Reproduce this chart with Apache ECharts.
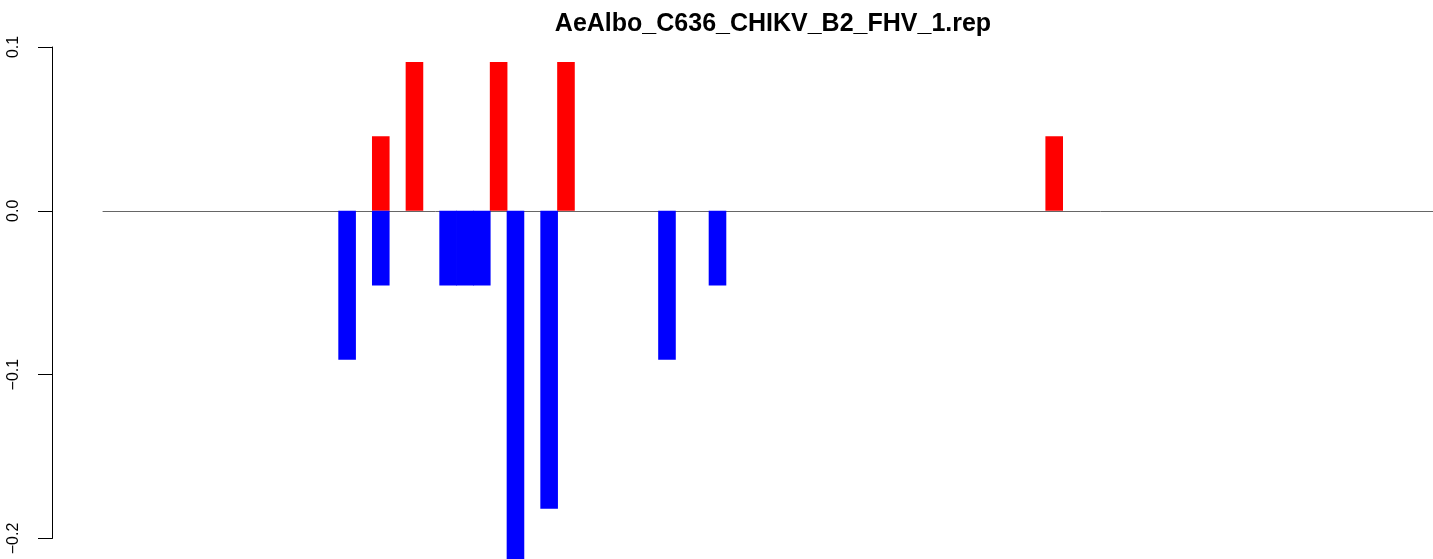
<!DOCTYPE html>
<html>
<head>
<meta charset="utf-8">
<script src="https://cdn.jsdelivr.net/npm/echarts@6/dist/echarts.min.js"></script>
<style>
  html, body { margin: 0; padding: 0; background: #fff; }
  #chart { width: 1433px; height: 559px; }
</style>
</head>
<body>
<div id="chart"></div>
<script>
// 数据
var titleText = 'AeAlbo_C636_CHIKV_B2_FHV_1.rep';
var binCount = 79;
var upBins = [16, 18, 23, 27, 56];
var upValues = [0.0455, 0.0909, 0.0909, 0.0909, 0.0455];
var downBins = [14, 16, 20, 21, 22, 24, 26, 33, 36];
var downValues = [-0.0909, -0.0455, -0.0455, -0.0455, -0.0455, -0.2273, -0.1818, -0.0909, -0.0455];
var yTicks = [-0.2, -0.1, 0.0, 0.1];

(function () {
  var myChart = echarts.init(document.getElementById('chart'))
  var categories = []
  for (var i = 0; i < binCount; i++) categories.push(String(i + 1))
  function pairs(bins, vals) {
    return bins.map(function (b, k) { return [b, vals[k]] })
  }
  var font = '"Liberation Sans", Arial, Helvetica, sans-serif'

  var option = {
    animation: false,
    backgroundColor: '#fff',
    title: {
      text: titleText,
      left: 768,
      textAlign: 'center',
      top: 7,
      textStyle: { fontFamily: font, fontWeight: 'bold', fontSize: 25, color: '#000' }
    },
    grid: [
      // 柱子所在区域
      { left: 103, right: 0, top: 47, bottom: 0 },
      // 只画左边的坐标轴
      { left: 52, width: 1, top: 47, bottom: 20.5 }
    ],
    xAxis: [{
      gridIndex: 0,
      type: 'category',
      data: categories,
      axisLine: { show: true, onZero: true, lineStyle: { color: '#666', width: 1 } },
      axisTick: { show: false },
      axisLabel: { show: false },
      splitLine: { show: false }
    }, {
      gridIndex: 1,
      type: 'value',
      show: false
    }],
    yAxis: [{
      gridIndex: 0,
      type: 'value',
      min: -0.2125,
      max: 0.1,
      show: false,
      splitLine: { show: false }
    }, {
      gridIndex: 1,
      type: 'value',
      min: yTicks[0],
      max: yTicks[yTicks.length - 1],
      interval: 0.1,
      axisLine: { show: true, lineStyle: { color: '#000', width: 1 } },
      axisTick: { show: true, length: 14, lineStyle: { color: '#000', width: 1 } },
      splitLine: { show: false },
      axisLabel: {
        rotate: 90,
        margin: 30,
        fontFamily: font,
        fontSize: 16,
        color: '#000',
        formatter: function (v) { return v.toFixed(1).replace('-', '\u2212') }
      }
    }],
    series: [{
      name: 'up',
      type: 'bar',
      xAxisIndex: 0,
      yAxisIndex: 0,
      barWidth: 17.6,
      barGap: '-100%',
      data: pairs(upBins, upValues),
      itemStyle: { color: '#ff0000' }
    }, {
      name: 'down',
      type: 'bar',
      xAxisIndex: 0,
      yAxisIndex: 0,
      barWidth: 17.6,
      barGap: '-100%',
      data: pairs(downBins, downValues),
      itemStyle: { color: '#0000ff' }
    }]
  }
  myChart.setOption(option)
})();
</script>
</body>
</html>
